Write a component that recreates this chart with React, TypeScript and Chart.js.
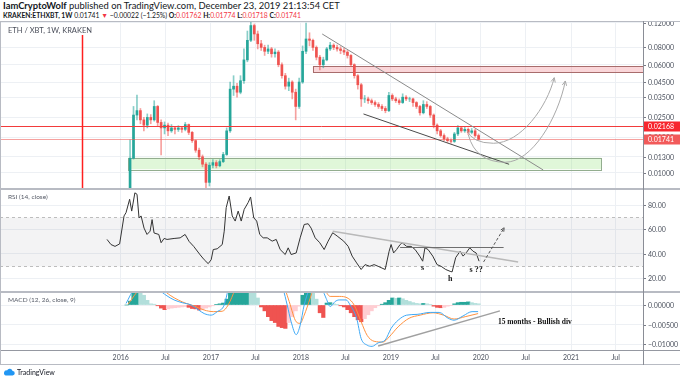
import React, { useEffect, useRef } from "react";
import { Chart, registerables } from "chart.js";
Chart.register(...registerables);

const FONT = "Lato, 'Open Sans', sans-serif";
const SERIF = "'Liberation Serif', 'DejaVu Serif', serif";

// ---------------- data ----------------
const firstBarDate = "2016-01-25";
const barDays = 14;
const firstOpen = 0.005;
const closes = [0.0070, 0.0127, 0.0260, 0.0280, 0.0240, 0.0220, 0.0250, 0.0240, 0.0300, 0.0230,
  0.0210, 0.0220, 0.0200, 0.0210, 0.0205, 0.0210, 0.0205, 0.0222, 0.0195, 0.0170,
  0.0145, 0.0130, 0.0115, 0.0085, 0.0113, 0.0118, 0.0112, 0.0120, 0.0135, 0.0200,
  0.0400, 0.0420, 0.0380, 0.0460, 0.0650, 0.0900, 0.1150, 0.1000, 0.0850, 0.0800,
  0.0750, 0.0780, 0.0720, 0.0740, 0.0600, 0.0500, 0.0420, 0.0450, 0.0380, 0.0300,
  0.0450, 0.0750, 0.0920, 0.0900, 0.0800, 0.0680, 0.0600, 0.0650, 0.0780, 0.0830,
  0.0800, 0.0780, 0.0760, 0.0740, 0.0700, 0.0600, 0.0500, 0.0430, 0.0340, 0.0340,
  0.0330, 0.0320, 0.0310, 0.0300, 0.0290, 0.0280, 0.0360, 0.0340, 0.0330, 0.0320,
  0.0350, 0.0340, 0.0340, 0.0320, 0.0300, 0.0270, 0.0310, 0.0300, 0.0260, 0.0220,
  0.0200, 0.0185, 0.0175, 0.0170, 0.0168, 0.0190, 0.0210, 0.0200, 0.0205, 0.0195,
  0.0200, 0.0185, 0.01741];
const highs = [0.0076, 0.0172, 0.0300, 0.0363, 0.0290, 0.0250, 0.0265, 0.0262, 0.0330, 0.0305,
  0.0240, 0.0232, 0.0228, 0.0222, 0.0215, 0.0218, 0.0214, 0.0230, 0.0224, 0.0198,
  0.0172, 0.0150, 0.0134, 0.0118, 0.0118, 0.0124, 0.0122, 0.0124, 0.0140, 0.0210,
  0.0450, 0.0500, 0.0440, 0.0500, 0.0780, 0.1050, 0.1240, 0.1180, 0.1050, 0.0900,
  0.0830, 0.0830, 0.0800, 0.0780, 0.0760, 0.0620, 0.0520, 0.0480, 0.0460, 0.0400,
  0.0480, 0.0820, 0.1200, 0.1020, 0.0920, 0.0820, 0.0700, 0.0680, 0.0800, 0.0870,
  0.0850, 0.0830, 0.0810, 0.0790, 0.0760, 0.0710, 0.0610, 0.0510, 0.0440, 0.0360,
  0.0350, 0.0340, 0.0330, 0.0320, 0.0310, 0.0300, 0.0380, 0.0370, 0.0350, 0.0340,
  0.0370, 0.0360, 0.0350, 0.0345, 0.0325, 0.0305, 0.0330, 0.0325, 0.0305, 0.0265,
  0.0225, 0.0205, 0.0190, 0.0180, 0.0175, 0.0195, 0.0218, 0.0215, 0.0215, 0.0210,
  0.0208, 0.0205, 0.0190];
const lows = [0.0048, 0.0068, 0.0125, 0.0240, 0.0225, 0.0200, 0.0210, 0.0225, 0.0235, 0.0215,
  0.0134, 0.0190, 0.0185, 0.0195, 0.0190, 0.0198, 0.0195, 0.0200, 0.0188, 0.0165,
  0.0140, 0.0124, 0.0110, 0.0075, 0.0080, 0.0108, 0.0108, 0.0110, 0.0118, 0.0133,
  0.0195, 0.0360, 0.0350, 0.0370, 0.0440, 0.0630, 0.0880, 0.0900, 0.0780, 0.0760,
  0.0700, 0.0720, 0.0680, 0.0680, 0.0580, 0.0480, 0.0400, 0.0390, 0.0340, 0.0240,
  0.0290, 0.0440, 0.0720, 0.0820, 0.0760, 0.0650, 0.0550, 0.0570, 0.0640, 0.0760,
  0.0770, 0.0750, 0.0720, 0.0710, 0.0670, 0.0580, 0.0480, 0.0400, 0.0300, 0.0320,
  0.0315, 0.0310, 0.0300, 0.0290, 0.0280, 0.0270, 0.0275, 0.0330, 0.0320, 0.0310,
  0.0315, 0.0330, 0.0325, 0.0300, 0.0290, 0.0260, 0.0265, 0.0290, 0.0250, 0.0210,
  0.0190, 0.0180, 0.0170, 0.0165, 0.0163, 0.0165, 0.0185, 0.0195, 0.0195, 0.0188,
  0.0190, 0.0180, 0.01718];
const histValues = [0.0000, 0.0010, 0.0030, 0.0050, 0.0035, 0.0025, 0.0012, 0.0003, 0.0002, -0.0002,
  -0.0008, -0.0012, -0.0010, -0.0008, -0.0007, -0.0006, -0.0005, -0.0004, -0.0006, -0.0009,
  -0.0010, -0.0013, -0.0012, -0.0008, -0.0005, -0.0002, 0.0001, 0.0003, 0.0005, 0.0015,
  0.0045, 0.0060, 0.0060, 0.0060, 0.0070, 0.0080, 0.0070, 0.0035, 0.0018, -0.0005,
  -0.0015, -0.0030, -0.0040, -0.0045, -0.0055, -0.0058, -0.0060, -0.0045, -0.0030, -0.0015,
  -0.0003, 0.0025, 0.0060, 0.0060, 0.0035, 0.0015, -0.0020, -0.0032, 0.0005, 0.0006,
  0.0003, 0.0001, -0.0002, -0.0005, -0.0012, -0.0020, -0.0030, -0.0038, -0.0043, -0.0035,
  -0.0025, -0.0015, -0.0007, -0.0002, 0.0002, 0.0006, 0.0012, 0.0018, 0.0017, 0.0018,
  0.0016, 0.0012, 0.0009, 0.0006, 0.0004, 0.0003, 0.0004, 0.0003, 0.0001, -0.0003,
  -0.0006, -0.0007, -0.0006, -0.0003, -0.0001, 0.0003, 0.0006, 0.0007, 0.0007, 0.0008,
  0.0006, 0.0004, 0.0003];

const rsiYears = [2015.848, 2015.892, 2015.937, 2015.988, 2016.037, 2016.059, 2016.099, 2016.122, 2016.157, 2016.181,
  2016.203, 2016.226, 2016.259, 2016.292, 2016.326, 2016.348, 2016.370, 2016.422, 2016.448, 2016.481,
  2016.514, 2016.592, 2016.659, 2016.714, 2016.759, 2016.809, 2016.881, 2016.926, 2016.970, 2017.003,
  2017.026, 2017.070, 2017.126, 2017.148, 2017.170, 2017.203, 2017.237, 2017.270, 2017.303, 2017.337,
  2017.370, 2017.414, 2017.441, 2017.476, 2017.509, 2017.543, 2017.581, 2017.626, 2017.681, 2017.726,
  2017.770, 2017.826, 2017.859, 2017.892, 2017.948, 2017.992, 2018.037, 2018.081, 2018.114, 2018.159,
  2018.210, 2018.259, 2018.303, 2018.354, 2018.403, 2018.476, 2018.526, 2018.570, 2018.620, 2018.670,
  2018.714, 2018.766, 2018.814, 2018.859, 2018.937, 2018.981, 2019.003, 2019.031, 2019.064, 2019.103,
  2019.126, 2019.176, 2019.226, 2019.270, 2019.321, 2019.354, 2019.379, 2019.414, 2019.466, 2019.514,
  2019.559, 2019.610, 2019.659, 2019.681, 2019.721, 2019.770, 2019.803, 2019.837, 2019.877, 2019.914,
  2019.948, 2019.981];
const rsiValues = [51.7, 47.5, 46, 48, 71, 73.7, 84.7, 75, 90, 88.8,
  69.5, 71, 61, 55.8, 58.5, 68, 57, 55.8, 49, 52.5,
  51.7, 52.5, 53, 55.8, 50, 46, 39, 35, 31.8, 35,
  43.4, 44, 47.5, 58.5, 77.8, 87.4, 71, 66.8, 75, 66.8,
  76.4, 82, 86.6, 69.5, 66.8, 55.8, 53, 53, 50.3, 51.7,
  43.4, 39.3, 44.8, 39.3, 40.6, 53, 64, 64.6, 61, 53,
  49, 43.4, 50.3, 57.2, 54.5, 50.3, 46, 38, 32.4, 27,
  31, 29.6, 31, 29.6, 27, 42, 47.5, 40.6, 43.4, 47.5,
  48.9, 46, 46, 43.4, 38, 33.8, 44.8, 43.4, 38, 31,
  29.6, 27, 25.5, 25, 36.8, 42, 38, 40.6, 44.8, 42,
  40.6, 33.8];

const macdYears = [2016.059, 2016.159, 2016.270, 2016.381, 2016.426, 2016.503, 2016.592, 2016.681, 2016.781, 2016.859,
  2016.926, 2017.003, 2017.070, 2017.148, 2017.192, 2017.270, 2017.381, 2017.492, 2017.603, 2017.714,
  2017.803, 2017.848, 2017.892, 2017.948, 2017.992, 2018.037, 2018.092, 2018.148, 2018.192, 2018.237,
  2018.281, 2018.326, 2018.381, 2018.426, 2018.503, 2018.548, 2018.620, 2018.670, 2018.737, 2018.792,
  2018.859, 2018.937, 2019.003, 2019.081, 2019.176, 2019.292, 2019.437, 2019.537, 2019.637, 2019.703,
  2019.803, 2019.903, 2019.970];
const macdValues = [0.0004, 0.0045, 0.0060, 0.0055, 0.0040, 0.0025, 0.0013, 0.0006, 0.0000, -0.0012,
  -0.0022, -0.0026, -0.0017, 0.0000, 0.0040, 0.0100, 0.0150, 0.0170, 0.0130, 0.0080,
  0.0040, 0.0000, -0.0043, -0.0076, -0.0052, 0.0000, 0.0040, 0.0060, 0.0050, 0.0040,
  0.0017, -0.0004, 0.0009, 0.0013, 0.0013, 0.0000, -0.0034, -0.0086, -0.0103, -0.0106,
  -0.0097, -0.0090, -0.0060, -0.0039, -0.0026, -0.0024, -0.0019, -0.0019, -0.0034, -0.0039,
  -0.0028, -0.0017, -0.0017];
const signalYears = [2016.081, 2016.226, 2016.326, 2016.437, 2016.470, 2016.548, 2016.637, 2016.726, 2016.809, 2016.926,
  2017.026, 2017.126, 2017.192, 2017.270, 2017.381, 2017.525, 2017.659, 2017.770, 2017.826, 2017.870,
  2017.948, 2017.992, 2018.037, 2018.103, 2018.137, 2018.192, 2018.259, 2018.326, 2018.426, 2018.526,
  2018.592, 2018.670, 2018.737, 2018.814, 2018.914, 2018.981, 2019.081, 2019.203, 2019.326, 2019.470,
  2019.586, 2019.703, 2019.826, 2019.970];
const signalValues = [0.0002, 0.0045, 0.0055, 0.0050, 0.0040, 0.0025, 0.0013, 0.0004, -0.0002, -0.0013,
  -0.0017, -0.0016, 0.0000, 0.0040, 0.0090, 0.0130, 0.0110, 0.0070, 0.0040, 0.0009,
  -0.0043, -0.0047, -0.0026, 0.0017, 0.0040, 0.0050, 0.0040, 0.0022, 0.0022, 0.0017,
  0.0000, -0.0043, -0.0078, -0.0093, -0.0095, -0.0082, -0.0056, -0.0034, -0.0026, -0.0020,
  -0.0026, -0.0036, -0.0030, -0.0022];

// tick labels
const priceTicks = [0.12, 0.08, 0.06, 0.045, 0.035, 0.025, 0.018, 0.013, 0.01];
const rsiTicks = [80, 60, 40, 20];
const macdTicks = [0, -0.005, -0.01];
const dateTickDates = ["2016-01-01", "2016-07-01", "2017-01-01", "2017-07-01", "2018-01-01", "2018-07-01",
  "2019-01-01", "2019-07-01", "2020-01-01", "2020-07-01", "2021-01-01", "2021-07-01"];
const dateTickLabels = ["2016", "Jul", "2017", "Jul", "2018", "Jul", "2019", "Jul", "2020", "Jul", "2021", "Jul"];

// header values
const lastOHLC = { o: "0.01762", h: "0.01774", l: "0.01718", c: "0.01741" };
const lastChange = "−0.00022 (−1.25%)";

// drawings (data coordinates: decimal year, price / value)
const redLevel = 0.02168;
const lastPrice = 0.01741;
const vLine = { year: 2015.570, top: 0.0983 };
const wedgeUpperYears = [2018.237, 2020.692];
const wedgeUpperPrices = [0.1000, 0.01044];
const wedgeLowerYears = [2018.696, 2020.314];
const wedgeLowerPrices = [0.02648, 0.01148];
const resistZone = { from: 2018.133, top: 0.0583, bottom: 0.0527 };
const supportZone = { from: 2016.081, to: 2021.337, top: 0.0128, bottom: 0.01057 };
const swooshAYears = [2019.844, 2020.140, 2020.814];
const swooshAPrices = [0.02029, 0.01627, 0.04837];
const swooshBYears = [2019.862, 2020.270, 2020.937];
const swooshBPrices = [0.01867, 0.01187, 0.0458];
const rsiTrendYears = [2018.354, 2020.414];
const rsiTrendValues = [58.5, 33.2];
const rsiNeckYears = [2019.103, 2020.253];
const rsiNeckValue = 45.3;
const rsiArrowYears = [2020.031, 2020.259];
const rsiArrowValues = [33.2, 61.3];
const rsiMarkLabels = ["s", "h", "s ??"];
const rsiMarkYears = [2019.352, 2019.659, 2019.948];
const rsiMarkValues = [28.2, 19.6, 26.6];
const divYears = [2018.859, 2020.212];
const divValues = [-0.0105, -0.0015];
const divText = { text: "15 months - Bullish div", year: 2020.19, value: -0.0044 };

// ---------------- helpers ----------------
const DAY = 86400000;
const X_MIN = Date.UTC(2016, 0, 1) - 489.7 * DAY;
const X_MAX = X_MIN + 2608.8 * DAY;
const GRID = "#edf0f4";
const UP = "#26a69a";
const DOWN = "#ef5350";

const yearToMs = (y: number) => {
  const Y = Math.floor(y);
  const s = Date.UTC(Y, 0, 1), e = Date.UTC(Y + 1, 0, 1);
  return s + (y - Y) * (e - s);
};
const dateToMs = (d: string) => {
  const [a, b, c] = d.split("-").map(Number);
  return Date.UTC(a, b - 1, c);
};
const barTime = (i: number) => dateToMs(firstBarDate) + i * barDays * DAY;

function xScaleOpts() {
  return {
    type: "linear", min: X_MIN, max: X_MAX, offset: false,
    afterBuildTicks: (s: any) => { s.ticks = dateTickDates.map((d) => ({ value: dateToMs(d) })); },
    afterFit: (s: any) => { s.height = 0; },
    ticks: { display: false },
    grid: { color: GRID, drawTicks: false, offset: false },
    border: { display: false },
  };
}
function yScaleOpts(extra: any, ticks: number[]) {
  return {
    position: "right",
    ...extra,
    afterBuildTicks: (s: any) => { s.ticks = ticks.map((v) => ({ value: v })); },
    afterFit: (s: any) => { s.width = 37; },
    ticks: { display: false, autoSkip: false },
    grid: { color: GRID, drawTicks: false },
    border: { display: false },
  };
}
function baseOptions(scales: any, padBottom = 0) {
  return {
    animation: false, responsive: false, devicePixelRatio: 1, events: [],
    layout: { padding: { left: 0, right: 0, top: 0, bottom: padBottom } },
    plugins: { legend: { display: false }, tooltip: { enabled: false } },
    scales,
  };
}
function drawRightLabels(chart: any, ticks: number[], fmt: (v: number) => string) {
  const { ctx, chartArea: a } = chart;
  const y = chart.scales.y;
  ctx.save();
  ctx.font = `7px ${FONT}`;
  ctx.fillStyle = "#4c525e";
  ctx.textBaseline = "middle";
  ctx.textAlign = "left";
  ctx.strokeStyle = "#787b86";
  ctx.lineWidth = 1;
  for (const v of ticks) {
    const py = Math.round(y.getPixelForValue(v)) + 0.5;
    ctx.beginPath(); ctx.moveTo(a.right, py); ctx.lineTo(a.right + 3, py); ctx.stroke();
    ctx.fillText(fmt(v), a.right + 5, py);
  }
  ctx.restore();
}
function paneLabel(chart: any, text: string, y: number, size: number, color: string) {
  const { ctx } = chart;
  ctx.save();
  ctx.font = `${size}px ${FONT}`;
  ctx.fillStyle = color;
  ctx.textBaseline = "middle";
  ctx.textAlign = "left";
  ctx.fillText(text, 8, y);
  ctx.restore();
}
function clipArea(ctx: any, a: any) {
  ctx.beginPath();
  ctx.rect(a.left, a.top, a.right - a.left, a.bottom - a.top);
  ctx.clip();
}
function line(ctx: any, x1: number, y1: number, x2: number, y2: number) {
  ctx.beginPath(); ctx.moveTo(x1, y1); ctx.lineTo(x2, y2); ctx.stroke();
}
function arrowHead(ctx: any, fx: number, fy: number, tx: number, ty: number, len = 5) {
  const ang = Math.atan2(ty - fy, tx - fx);
  ctx.beginPath();
  ctx.moveTo(tx - len * Math.cos(ang - 0.45), ty - len * Math.sin(ang - 0.45));
  ctx.lineTo(tx, ty);
  ctx.lineTo(tx - len * Math.cos(ang + 0.45), ty - len * Math.sin(ang + 0.45));
  ctx.stroke();
}
function swoosh(ctx: any, S: any, B: any, E: any) {
  ctx.beginPath();
  ctx.moveTo(S.x, S.y);
  ctx.quadraticCurveTo(S.x + (B.x - S.x) * 0.2, B.y, B.x, B.y);
  const c1 = { x: B.x + (E.x - B.x) * 0.45, y: B.y };
  const c2 = { x: E.x - (E.x - B.x) * 0.12, y: E.y + (B.y - E.y) * 0.45 };
  ctx.bezierCurveTo(c1.x, c1.y, c2.x, c2.y, E.x, E.y);
  ctx.stroke();
  arrowHead(ctx, c2.x, c2.y, E.x, E.y, 5);
}
function priceBox(ctx: any, a: any, py: number, text: string, bg: string, width: number) {
  ctx.fillStyle = bg;
  ctx.fillRect(a.right + 1, py - 5, width - a.right - 1, 10);
  ctx.fillStyle = "#ffffff";
  ctx.font = `7px ${FONT}`;
  ctx.textBaseline = "middle";
  ctx.textAlign = "left";
  ctx.fillText(text, a.right + 5, py);
}

// ---------------- plugins ----------------
const mainPlugin = {
  id: "mainDeco",
  beforeDatasetsDraw(chart: any) {
    const { ctx, chartArea: a, scales: { x, y } } = chart;
    const X = (v: number) => x.getPixelForValue(yearToMs(v));
    ctx.save();
    clipArea(ctx, a);
    const gx1 = X(supportZone.from), gx2 = X(supportZone.to);
    const gy1 = y.getPixelForValue(supportZone.top), gy2 = y.getPixelForValue(supportZone.bottom);
    ctx.fillStyle = "rgba(152,230,130,0.3)";
    ctx.fillRect(gx1, gy1, gx2 - gx1, gy2 - gy1);
    ctx.strokeStyle = "#93ad8f";
    ctx.lineWidth = 1;
    ctx.strokeRect(Math.round(gx1) + 0.5, Math.round(gy1) + 0.5, Math.round(gx2 - gx1), Math.round(gy2 - gy1));
    const rx1 = X(resistZone.from);
    const ry1 = y.getPixelForValue(resistZone.top), ry2 = y.getPixelForValue(resistZone.bottom);
    ctx.fillStyle = "rgba(240,120,130,0.3)";
    ctx.fillRect(rx1, ry1, a.right - rx1, ry2 - ry1);
    ctx.strokeStyle = "#a86c6c";
    ctx.strokeRect(Math.round(rx1) + 0.5, Math.round(ry1) + 0.5, a.right - Math.round(rx1) + 2, Math.round(ry2 - ry1));
    ctx.restore();
  },
  afterDatasetsDraw(chart: any) {
    const { ctx, chartArea: a, scales: { x, y } } = chart;
    const X = (v: number) => x.getPixelForValue(yearToMs(v));
    const P = (yv: number, p: number) => ({ x: X(yv), y: y.getPixelForValue(p) });
    ctx.save();
    clipArea(ctx, a);
    ctx.lineWidth = 1;
    const ry = Math.round(y.getPixelForValue(redLevel)) + 0.5;
    ctx.strokeStyle = "#f23b3b";
    line(ctx, a.left, ry, a.right, ry);
    const ly = Math.round(y.getPixelForValue(lastPrice)) + 0.5;
    ctx.strokeStyle = "rgba(239,83,80,0.55)";
    line(ctx, a.left, ly, a.right, ly);
    ctx.strokeStyle = "#ff1f1f";
    ctx.lineWidth = 1.5;
    const vx = Math.round(X(vLine.year)) + 0.5;
    line(ctx, vx, y.getPixelForValue(vLine.top), vx, a.bottom);
    ctx.lineWidth = 1;
    ctx.strokeStyle = "#8a8a8a";
    let p1 = P(wedgeUpperYears[0], wedgeUpperPrices[0]), p2 = P(wedgeUpperYears[1], wedgeUpperPrices[1]);
    line(ctx, p1.x, p1.y, p2.x, p2.y);
    ctx.strokeStyle = "#4a4a4a";
    p1 = P(wedgeLowerYears[0], wedgeLowerPrices[0]); p2 = P(wedgeLowerYears[1], wedgeLowerPrices[1]);
    line(ctx, p1.x, p1.y, p2.x, p2.y);
    ctx.strokeStyle = "#a9a9a9";
    ctx.lineWidth = 1;
    swoosh(ctx, P(swooshAYears[0], swooshAPrices[0]), P(swooshAYears[1], swooshAPrices[1]), P(swooshAYears[2], swooshAPrices[2]));
    swoosh(ctx, P(swooshBYears[0], swooshBPrices[0]), P(swooshBYears[1], swooshBPrices[1]), P(swooshBYears[2], swooshBPrices[2]));
    ctx.restore();

    drawRightLabels(chart, priceTicks, (v) => v.toFixed(5));
    ctx.save();
    priceBox(ctx, a, ry, redLevel.toFixed(5), "#f7262e", chart.width);
    priceBox(ctx, a, ly, lastPrice.toFixed(5), "#f25a5a", chart.width);
    ctx.restore();
    paneLabel(chart, "ETH / XBT, 1W, KRAKEN", 9, 7.5, "#4a4e5a");
  },
};

const rsiPlugin = {
  id: "rsiDeco",
  beforeDatasetsDraw(chart: any) {
    const { ctx, chartArea: a, scales: { y } } = chart;
    const y70 = Math.round(y.getPixelForValue(70)) + 0.5, y30 = Math.round(y.getPixelForValue(30)) + 0.5;
    ctx.save();
    ctx.fillStyle = "rgba(120,123,134,0.09)";
    ctx.fillRect(a.left, y70, a.right - a.left, y30 - y70);
    ctx.strokeStyle = "#bdbdbd";
    ctx.setLineDash([3, 3]);
    ctx.lineWidth = 1;
    line(ctx, a.left, y70, a.right, y70);
    line(ctx, a.left, y30, a.right, y30);
    ctx.restore();
  },
  afterDatasetsDraw(chart: any) {
    const { ctx, chartArea: a, scales: { x, y } } = chart;
    const X = (v: number) => x.getPixelForValue(yearToMs(v));
    ctx.save();
    clipArea(ctx, a);
    ctx.strokeStyle = "#b9b9b9";
    ctx.lineWidth = 1.5;
    line(ctx, X(rsiTrendYears[0]), y.getPixelForValue(rsiTrendValues[0]), X(rsiTrendYears[1]), y.getPixelForValue(rsiTrendValues[1]));
    ctx.strokeStyle = "#6e6e6e";
    ctx.lineWidth = 1;
    const ny = Math.round(y.getPixelForValue(rsiNeckValue)) + 0.5;
    line(ctx, X(rsiNeckYears[0]), ny, X(rsiNeckYears[1]), ny);
    ctx.strokeStyle = "#555";
    ctx.setLineDash([3, 2]);
    const ax1 = X(rsiArrowYears[0]), ay1 = y.getPixelForValue(rsiArrowValues[0]);
    const ax2 = X(rsiArrowYears[1]), ay2 = y.getPixelForValue(rsiArrowValues[1]);
    line(ctx, ax1, ay1, ax2, ay2);
    ctx.setLineDash([]);
    arrowHead(ctx, ax1, ay1, ax2, ay2, 4);
    ctx.fillStyle = "#1a1a1a";
    ctx.font = `bold 8px ${SERIF}`;
    ctx.textAlign = "center";
    ctx.textBaseline = "middle";
    rsiMarkLabels.forEach((t, i) => ctx.fillText(t, X(rsiMarkYears[i]), y.getPixelForValue(rsiMarkValues[i])));
    ctx.restore();
    drawRightLabels(chart, rsiTicks, (v) => v.toFixed(2));
    paneLabel(chart, "RSI (14, close)", 7, 6.5, "#555a66");
  },
};

const macdFmt = (v: number) => (v < 0 ? "−" : "") + Math.abs(v).toFixed(5);
const macdPlugin = {
  id: "macdDeco",
  afterDatasetsDraw(chart: any) {
    const { ctx, chartArea: a, scales: { x, y } } = chart;
    const X = (v: number) => x.getPixelForValue(yearToMs(v));
    ctx.save();
    clipArea(ctx, a);
    ctx.strokeStyle = "#a0a0a0";
    ctx.lineWidth = 1.5;
    line(ctx, X(divYears[0]), y.getPixelForValue(divValues[0]), X(divYears[1]), y.getPixelForValue(divValues[1]));
    ctx.fillStyle = "#111";
    ctx.font = `bold 7.5px ${SERIF}`;
    ctx.textAlign = "left";
    ctx.textBaseline = "middle";
    ctx.fillText(divText.text, X(divText.year), y.getPixelForValue(divText.value));
    ctx.restore();
    drawRightLabels(chart, macdTicks, macdFmt);
    paneLabel(chart, "MACD (12, 26, close, 9)", 7, 6.5, "#555a66");
    ctx.save();
    ctx.font = `7px ${FONT}`;
    ctx.fillStyle = "#4c525e";
    ctx.textAlign = "center";
    ctx.textBaseline = "middle";
    dateTickDates.forEach((d, i) => ctx.fillText(dateTickLabels[i], x.getPixelForValue(dateToMs(d)), a.bottom + 7.5));
    ctx.restore();
  },
};

// ---------------- component ----------------
export default function App() {
  const mainRef = useRef<HTMLCanvasElement>(null);
  const rsiRef = useRef<HTMLCanvasElement>(null);
  const macdRef = useRef<HTMLCanvasElement>(null);

  useEffect(() => {
    const charts: Chart[] = [];
    const opens = closes.map((c, i) => (i === 0 ? firstOpen : closes[i - 1]));
    const isUp = closes.map((c, i) => c >= opens[i]);

    charts.push(new Chart(mainRef.current as HTMLCanvasElement, {
      type: "bar",
      data: {
        datasets: [
          {
            data: closes.map((c, i) => ({ x: barTime(i), y: [opens[i], c] })),
            backgroundColor: isUp.map((u) => (u ? UP : DOWN)),
            barThickness: 2, grouped: false,
          } as any,
          {
            data: highs.map((h, i) => ({ x: barTime(i), y: [lows[i], h] })),
            backgroundColor: isUp.map((u) => (u ? "rgba(38,166,154,0.55)" : "rgba(239,83,80,0.55)")),
            barThickness: 1, grouped: false,
          } as any,
        ],
      },
      options: baseOptions({
        x: xScaleOpts(),
        y: yScaleOpts({ type: "logarithmic", min: 0.00774, max: 0.1220 }, priceTicks),
      }) as any,
      plugins: [mainPlugin],
    }));

    charts.push(new Chart(rsiRef.current as HTMLCanvasElement, {
      type: "line",
      data: {
        datasets: [{
          data: rsiYears.map((yv, i) => ({ x: yearToMs(yv), y: rsiValues[i] })),
          borderColor: "#333", borderWidth: 1, pointRadius: 0, tension: 0, fill: false,
        }],
      },
      options: baseOptions({
        x: xScaleOpts(),
        y: yScaleOpts({ type: "linear", min: 9.32, max: 92.33 }, rsiTicks),
      }) as any,
      plugins: [rsiPlugin],
    }));

    const histColors = histValues.map((v, i) => {
      const prev = i === 0 ? 0 : histValues[i - 1];
      if (v >= 0) return v >= prev ? "#26a69a" : "#b2dfdb";
      return v <= prev ? "#ef5350" : "#ffcdd2";
    });
    charts.push(new Chart(macdRef.current as HTMLCanvasElement, {
      type: "bar",
      data: {
        datasets: [
          {
            type: "line",
            data: macdYears.map((yv, i) => ({ x: yearToMs(yv), y: macdValues[i] })),
            borderColor: "#3fa9f5", borderWidth: 1, pointRadius: 0, cubicInterpolationMode: "monotone",
          } as any,
          {
            type: "line",
            data: signalYears.map((yv, i) => ({ x: yearToMs(yv), y: signalValues[i] })),
            borderColor: "#ff9240", borderWidth: 1, pointRadius: 0, cubicInterpolationMode: "monotone",
          } as any,
          {
            type: "bar",
            data: histValues.map((v, i) => ({ x: barTime(i), y: v })),
            backgroundColor: histColors,
            barThickness: 3.5, grouped: false,
          } as any,
        ],
      },
      options: baseOptions({
        x: xScaleOpts(),
        y: yScaleOpts({ type: "linear", min: -0.011538, max: 0.003077 }, macdTicks),
      }, 14) as any,
      plugins: [macdPlugin],
    }));

    return () => charts.forEach((c) => c.destroy());
  }, []);

  const line1: React.CSSProperties = { position: "absolute", background: "#b8bbc3" };
  const RED = "#f23645";
  return (
    <div style={{ position: "absolute", left: 0, top: 0, width: 680, height: 383, background: "#fff", overflow: "hidden", fontFamily: FONT }}>
      <div style={{ position: "absolute", left: 3, top: 1, fontSize: 9.4, lineHeight: "10px", color: "#131722", whiteSpace: "nowrap" }}>
        <b>IamCryptoWolf</b> published on TradingView.com, December 23, 2019 21:13:54 CET
      </div>
      <div style={{ position: "absolute", left: 3, top: 11, fontSize: 6.8, lineHeight: "9px", color: "#131722", whiteSpace: "nowrap" }}>
        <b>KRAKEN:ETHXBT, 1W</b> {lastOHLC.c} <span style={{ color: RED }}>▼</span> {lastChange}{" "}
        <b>O:</b><span style={{ color: RED }}>{lastOHLC.o}</span>{" "}
        <b>H:</b><span style={{ color: RED }}>{lastOHLC.h}</span>{" "}
        <b>L:</b><span style={{ color: RED }}>{lastOHLC.l}</span>{" "}
        <b>C:</b><span style={{ color: RED }}>{lastOHLC.c}</span>
      </div>

      <canvas ref={mainRef} width={680} height={166} style={{ position: "absolute", left: 0, top: 22, display: "block" }} />
      <canvas ref={rsiRef} width={680} height={101} style={{ position: "absolute", left: 0, top: 190, display: "block" }} />
      <canvas ref={macdRef} width={680} height={71} style={{ position: "absolute", left: 0, top: 293, display: "block" }} />

      <div style={{ ...line1, left: 0, top: 21, width: 680, height: 1 }} />
      <div style={{ ...line1, left: 0, top: 188, width: 680, height: 2 }} />
      <div style={{ ...line1, left: 0, top: 291, width: 680, height: 2 }} />
      <div style={{ ...line1, left: 0, top: 350, width: 680, height: 1, background: "#9598a1" }} />
      <div style={{ ...line1, left: 0, top: 364, width: 680, height: 1 }} />
      <div style={{ ...line1, left: 0, top: 21, width: 1, height: 344 }} />
      <div style={{ ...line1, left: 643, top: 21, width: 1, height: 344, background: "#8a8d96" }} />

      <div style={{ position: "absolute", left: 3, top: 368, display: "flex", alignItems: "center", gap: 2, fontSize: 7, color: "#131722" }}>
        <svg width="12" height="8" viewBox="0 0 12 8">
          <path d="M3 7.5 H9.5 A2.2 2.2 0 0 0 9.6 3.1 A3 3 0 0 0 4 2.4 A2.6 2.6 0 0 0 3 7.5 Z" fill="#2196f3" />
        </svg>
        <span>TradingView</span>
      </div>
    </div>
  );
}
